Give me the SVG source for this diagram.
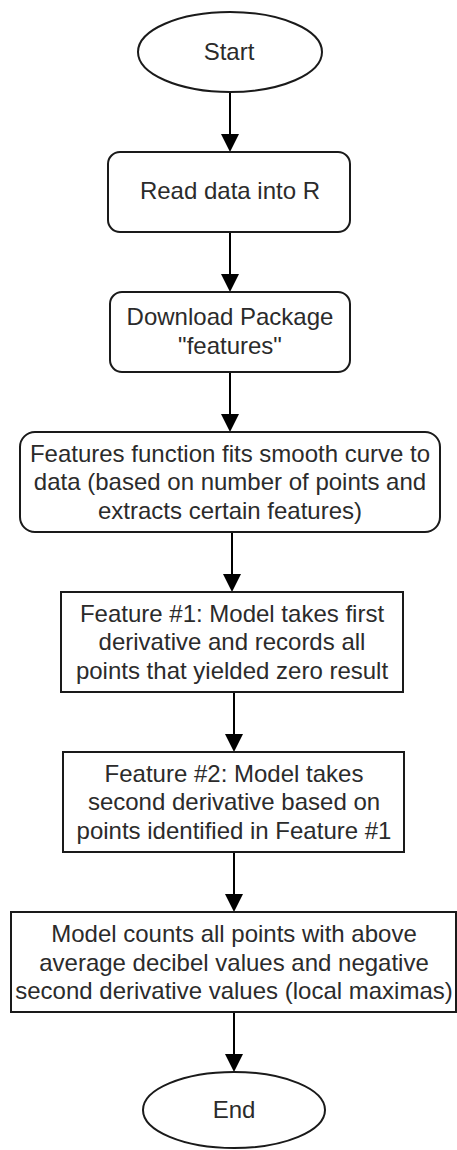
<svg xmlns="http://www.w3.org/2000/svg" width="457" height="1150" viewBox="0 0 457 1150">
  <style>
    .shape { fill: #ffffff; stroke: #1a1a1a; stroke-width: 2; }
    .lbl { font-family: "Liberation Sans", Arial, sans-serif; font-size: 24px; fill: #2b2b2b; text-anchor: middle; }
    .conn { fill: none; stroke: #000000; stroke-width: 2; }
  </style>
  <defs>
    <marker id="arrow" viewBox="0 0 18 18" refX="15" refY="9" markerWidth="18" markerHeight="18" markerUnits="userSpaceOnUse" orient="auto">
      <path d="M0,0 L18,9 L0,18 z" fill="#000000"/>
    </marker>
  </defs>
  <rect width="457" height="1150" fill="#ffffff"/>

  <g id="connectors">
    <path class="conn" d="M230,92 L230,149" marker-end="url(#arrow)"/>
    <path class="conn" d="M230,232 L230,289" marker-end="url(#arrow)"/>
    <path class="conn" d="M230,372 L230,429" marker-end="url(#arrow)"/>
    <path class="conn" d="M232,532 L232,589" marker-end="url(#arrow)"/>
    <path class="conn" d="M234,692 L234,749" marker-end="url(#arrow)"/>
    <path class="conn" d="M234,852 L234,909" marker-end="url(#arrow)"/>
    <path class="conn" d="M234,1012 L234,1069" marker-end="url(#arrow)"/>
  </g>

  <g id="start">
    <ellipse class="shape" cx="230" cy="52" rx="92" ry="40"/>
    <text class="lbl" x="229" y="60">Start</text>
  </g>

  <g id="read-data">
    <rect class="shape" x="108" y="152" width="242" height="80" rx="12" ry="12"/>
    <text class="lbl" x="230" y="199">Read data into R</text>
  </g>

  <g id="download">
    <rect class="shape" x="110" y="292" width="240" height="80" rx="12" ry="12"/>
    <text class="lbl" x="230" y="325">Download Package</text>
    <text class="lbl" x="230" y="353.5">"features"</text>
  </g>

  <g id="features-fn">
    <rect class="shape" x="20" y="432" width="420" height="100" rx="15" ry="15"/>
    <text class="lbl" x="230" y="461.5">Features function fits smooth curve to</text>
    <text class="lbl" x="230" y="490">data (based on number of points and</text>
    <text class="lbl" x="230" y="518.5">extracts certain features)</text>
  </g>

  <g id="feature1">
    <rect class="shape" x="61" y="592" width="342" height="100"/>
    <text class="lbl" x="232" y="621.5">Feature #1: Model takes first</text>
    <text class="lbl" x="232" y="650">derivative and records all</text>
    <text class="lbl" x="232" y="678.5">points that yielded zero result</text>
  </g>

  <g id="feature2">
    <rect class="shape" x="63" y="752" width="341" height="100"/>
    <text class="lbl" x="234" y="781.5">Feature #2: Model takes</text>
    <text class="lbl" x="234" y="810">second derivative based on</text>
    <text class="lbl" x="234" y="838.5">points identified in Feature #1</text>
  </g>

  <g id="count">
    <rect class="shape" x="11" y="912" width="445" height="100"/>
    <text class="lbl" x="234" y="942">Model counts all points with above</text>
    <text class="lbl" x="234" y="970.5">average decibel values and negative</text>
    <text class="lbl" x="234" y="999">second derivative values (local maximas)</text>
  </g>

  <g id="end">
    <ellipse class="shape" cx="234" cy="1110" rx="91" ry="38"/>
    <text class="lbl" x="234" y="1118">End</text>
  </g>
</svg>
